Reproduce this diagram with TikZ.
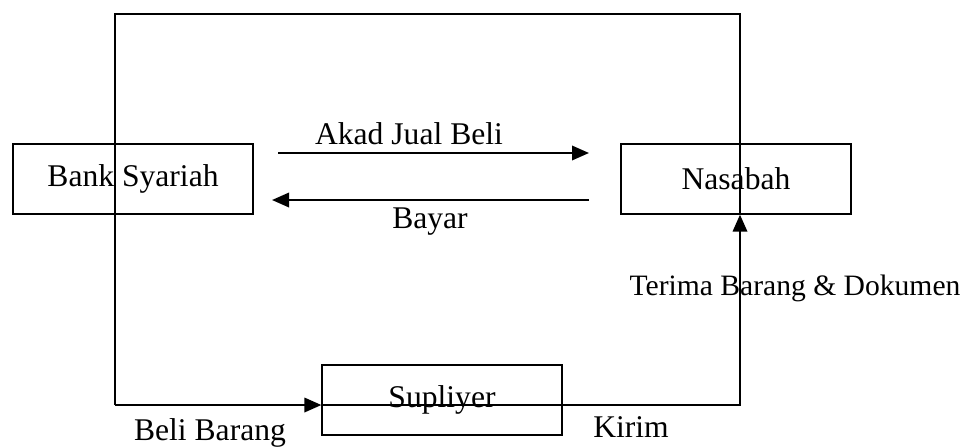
\documentclass[tikz,border=0pt]{standalone}
\usepackage{fontspec}
\setmainfont{Liberation Serif}
\usetikzlibrary{positioning}
\usetikzlibrary{arrows.meta}

\begin{document}
\begin{tikzpicture}[x=0.5pt,y=-0.5pt,font=\fontsize{15.8}{19}\selectfont,
    box/.style={draw, line width=0.6pt, minimum height=35pt, inner sep=0pt},
    flow/.style={line width=1.1pt, -{Triangle[length=8.5pt,width=7.2pt]}}]
    \useasboundingbox (0,0) rectangle (969,446);
    \node[box, minimum width=120pt] (bank) at (133,179) {Bank Syariah};
    \node[box, minimum width=115pt] (nasabah) at (736,179) {Nasabah};
    \node[box, minimum width=120pt] (supliyer) at (442,400) {Supliyer};
    \coordinate (topleft) at (115,14);
    \coordinate (topright) at (740,14);
    \coordinate (botleft) at (115,405);
    \coordinate (botright) at (740,405);
    \coordinate (akadA) at (278,153);
    \coordinate (akadB) at (589,153);
    \coordinate (bayarA) at (589,200);
    \coordinate (bayarB) at (272,200);
    % outer line
    \draw[line width=0.6pt] (botleft) -- (topleft) -- (topright) -- (nasabah.south -| topright);
    \draw[flow] (akadA) -- (akadB);
    \draw[flow] (bayarA) -- (bayarB);
    \draw[flow] (botleft) -- (botleft -| supliyer.west);
    \draw[line width=0.6pt] (botleft -| supliyer.west) -- (botleft -| supliyer.east);
    \draw[flow] (botleft -| supliyer.east) -- (botright) -- (nasabah.south -| botright);
    \node[] (akad) at (409,134) {Akad Jual Beli};
    \node[] (bayar) at (430,222) {Bayar};
    \node[font=\fontsize{14.8}{18}\selectfont] (terima) at (795,288) {Terima Barang \& Dokumen};
    \node[] (kirim) at (631,427) {Kirim};
    \node[] (beli) at (210,433) {Beli Barang};
\end{tikzpicture}
\end{document}
